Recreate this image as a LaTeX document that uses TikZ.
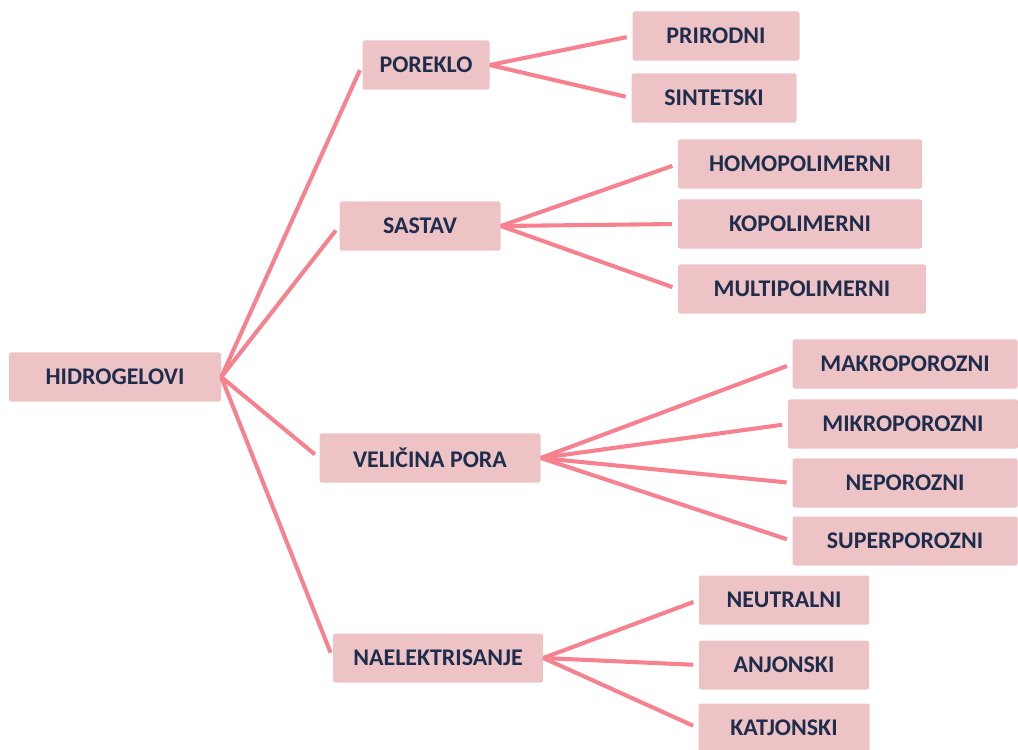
\documentclass[tikz,border=0pt]{standalone}
\usepackage{fontspec}
\setmainfont{Carlito}
\definecolor{boxpink}{HTML}{EDC3C5}
\definecolor{linkpink}{HTML}{F7828F}
\definecolor{labelnavy}{HTML}{1F2D4D}

\begin{document}
\begin{tikzpicture}[x=0.025cm, y=-0.025cm,
		tag/.style={fill=boxpink, rounded corners=1.5pt, minimum height=1.225cm,
			minimum width=#1*0.025cm, inner sep=0pt, text=labelnavy,
			font=\fontsize{17}{20}\selectfont\bfseries},
		link/.style={draw=linkpink, line width=2.9pt, shorten >=4pt}]
		%%%%% START %%%%%
		
		\useasboundingbox (0, 0) rectangle (1018, 749);
		
		\node[tag=212] (hidrogelovi) at (115, 377) {HIDROGELOVI};
		
		\node[tag=127] (poreklo) at (426, 65) {POREKLO};
		\node[tag=161] (sastav) at (420, 226) {SASTAV};
		\node[tag=221] (velicina) at (430, 458) {VELIČINA PORA};
		\node[tag=210] (naelektrisanje) at (438, 658) {NAELEKTRISANJE};
		
		\node[tag=167] (prirodni) at (716, 36) {PRIRODNI};
		\node[tag=165] (sintetski) at (714, 98) {SINTETSKI};
		
		\node[tag=244] (homopolimerni) at (800, 164) {HOMOPOLIMERNI};
		\node[tag=244] (kopolimerni) at (800, 224) {KOPOLIMERNI};
		\node[tag=248] (multipolimerni) at (802, 289) {MULTIPOLIMERNI};
		
		\node[tag=225] (makroporozni) at (905, 364) {MAKROPOROZNI};
		\node[tag=230] (mikroporozni) at (903, 424) {MIKROPOROZNI};
		\node[tag=225] (neporozni) at (905, 483) {NEPOROZNI};
		\node[tag=225] (superporozni) at (905, 541) {SUPERPOROZNI};
		
		\node[tag=170] (neutralni) at (784, 600) {NEUTRALNI};
		\node[tag=170] (anjonski) at (784, 665) {ANJONSKI};
		\node[tag=171] (katjonski) at (784, 728) {KATJONSKI};
		
		\foreach \kid in {poreklo, sastav, velicina, naelektrisanje}
		\draw[link] (hidrogelovi.east) -- (\kid.west);
		
		\draw[link] (poreklo.east) -- (prirodni.west);
		\draw[link] (poreklo.east) -- (sintetski.west);
		
		\foreach \kid in {homopolimerni, kopolimerni, multipolimerni}
		\draw[link] (sastav.east) -- (\kid.west);
		
		\foreach \kid in {makroporozni, mikroporozni, neporozni, superporozni}
		\draw[link] (velicina.east) -- (\kid.west);
		
		\foreach \kid in {neutralni, anjonski, katjonski}
		\draw[link] (naelektrisanje.east) -- (\kid.west);
		
		%%%%% END %%%%%
	\end{tikzpicture}
\end{document}
